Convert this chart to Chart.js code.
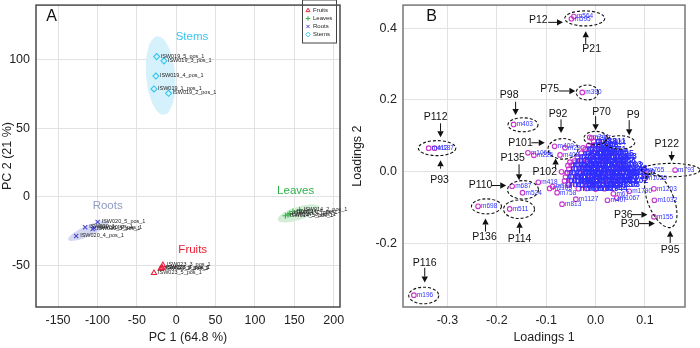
<!DOCTYPE html>
<html lang="en">
<head>
<meta charset="UTF-8">
<title>PCA scores and loadings</title>
<script src="https://cdn.jsdelivr.net/npm/chart.js"></script>
<style>
  body { margin: 0; background: #fff; }
  .panel { position: absolute; top: 0; width: 350px; height: 348px; }
  #panelA { left: 0; }
  #panelB { left: 350px; }
</style>
</head>
<body>
<div class="panel" id="panelA"><canvas id="scoresChart" width="350" height="348"></canvas></div>
<div class="panel" id="panelB"><canvas id="loadingsChart" width="350" height="348"></canvas></div>
<script>
// ---------- Panel A data (PC scores) ----------
const xTicksA = [-150, -100, -50, 0, 50, 100, 150, 200];
const yTicksA = [-50, 0, 50, 100];
const groups = ['Fruits', 'Leaves', 'Roots', 'Stems'];
const fruitsPts = [[-16.9, -49.8, 'ISW023_3_pos_1'], [-19.8, -52.4, 'ISW023_1_pos_1'], [-17.8, -51.7, 'ISW023_4_pos_1'],
                   [-18.5, -52.0, 'ISW023_2_pos_1'], [-28.2, -55.6, 'ISW023_5_pos_1']];
const leavesPts = [[148.3, -10.7, 'ISW014_4_pos_1'], [156.7, -9.6, 'ISW014_2_pos_1'], [144.1, -12.1, 'ISW014_1_pos_1'],
                   [142.0, -13.0, 'ISW014_3_pos_1'], [138.7, -13.8, 'ISW014_5_pos_1']];
const rootsPts = [[-99.7, -18.3, 'ISW020_5_pos_1'], [-115.6, -22.2, 'ISW020_1_pos_1'], [-106.0, -23.4, 'ISW020_3_pos_1'],
                  [-104.0, -22.8, 'ISW020_2_pos_1'], [-127.0, -28.5, 'ISW020_4_pos_1']];
const stemsPts = [[-24.8, 102.4, 'ISW019_5_pos_1'], [-15.6, 99.3, 'ISW019_3_pos_1'], [-25.8, 88.2, 'ISW019_4_pos_1'],
                  [-28.2, 78.8, 'ISW019_1_pos_1'], [-9.7, 75.6, 'ISW019_2_pos_1']];
// confidence ellipses: centre, end of major axis, minor/major ratio
const groupEllipses = [
  { cx: -111.2, cy: -24.6, ex: -85.4, ey: -17.9, ratio: 0.24, fill: '#d4d9f1' },
  { cx: 155.5, cy: -12.0, ex: 182.0, ey: -7.2, ratio: 0.3, fill: '#d4edd7' },
  { cx: -19.8, cy: 88.6, ex: -24.0, ey: 117.2, ratio: 0.37, fill: '#d5f1fb' }
];
const groupNames = [
  { text: 'Stems', x: 20, y: 116.7, color: '#3cc3ee' },
  { text: 'Roots', x: -87, y: -6.3, color: '#8e9cc4' },
  { text: 'Leaves', x: 151.7, y: 4.3, color: '#2db34a' },
  { text: 'Fruits', x: 21, y: -38.4, color: '#ee1c33' }
];

// ---------- Panel B data (loadings) ----------
const xTicksB = [-0.3, -0.2, -0.1, 0.0, 0.1];
const yTicksB = [-0.2, 0.0, 0.2, 0.4];
const loadPts = [
  [-0.044, 0.432, 'm564'], [-0.049, 0.426, 'm595'], [-0.027, 0.221, 'm390'], [-0.166, 0.132, 'm403'],
  [-0.338, 0.066, 'm412'], [-0.326, 0.066, 'm187'], [-0.012, 0.096, 'm344'], [-0.008, 0.094, 'm317'],
  [0.022, 0.080, 'm364'], [-0.083, 0.071, 'm409'], [-0.072, 0.047, 'm408'], [-0.137, 0.053, 'm1066'],
  [-0.125, 0.046, 'm226'], [0.100, 0.005, 'm765'], [0.161, 0.005, 'm793'], [-0.169, -0.040, 'm687'],
  [-0.148, -0.058, 'm524'], [-0.238, -0.096, 'm698'], [-0.174, -0.103, 'm511'], [-0.368, -0.343, 'm196'],
  [-0.068, -0.090, 'm813'], [-0.040, -0.076, 'm1127'], [0.118, -0.047, 'm1203'], [0.119, -0.079, 'm1032'],
  [0.118, -0.125, 'm155'], [-0.116, -0.029, 'm418'], [-0.078, -0.058, 'm758'], [0.024, -0.079, 'm407'],
  [0.043, -0.073, 'm1067'], [0.036, -0.061, 'm67'], [0.068, -0.054, 'm1790'], [-0.093, -0.046, 'm1105'],
  [-0.087, -0.041, 'm566'], [-0.069, 0.000, 'm6'], [-0.056, 0.018, 'm1134'], [-0.062, 0.067, 'm29'],
  [-0.025, 0.067, 'm248'], [-0.052, 0.027, 'm1124'], [0.098, -0.018, 'm1026']
];
const bulkPts = [
  [-0.004, 0.085, 'm288'], [0.006, 0.084, 'm1311'],
  [-0.014, 0.074, 'm317'], [-0.002, 0.075, 'm502'], [0.009, 0.073, 'm96'],
  [-0.021, 0.063, 'm1140'], [-0.009, 0.064, 'm49'], [0.003, 0.062, 'm853'], [0.015, 0.063, 'm271'],
  [-0.029, 0.052, 'm632'], [-0.016, 0.053, 'm1018'], [-0.004, 0.051, 'm53'], [0.008, 0.052, 'm740'], [0.020, 0.053, 'm186'], [0.030, 0.051, 'm925'],
  [-0.037, 0.041, 'm371'], [-0.025, 0.042, 'm1207'], [-0.011, 0.040, 'm84'], [0.001, 0.041, 'm560'], [0.013, 0.042, 'm1099'], [0.026, 0.040, 'm92'], [0.036, 0.041, 'm438'],
  [-0.043, 0.030, 'm715'], [-0.031, 0.031, 'm1172'], [-0.018, 0.029, 'm230'], [-0.005, 0.030, 'm669'], [0.007, 0.031, 'm1045'], [0.019, 0.029, 'm312'], [0.032, 0.030, 'm877'], [0.044, 0.031, 'm58'],
  [-0.049, 0.019, 'm1253'], [-0.037, 0.020, 'm447'], [-0.024, 0.018, 'm906'], [-0.012, 0.019, 'm133'], [0.000, 0.020, 'm1081'], [0.013, 0.018, 'm590'], [0.025, 0.019, 'm264'], [0.038, 0.020, 'm1163'], [0.050, 0.018, 'm702'],
  [-0.054, 0.008, 'm385'], [-0.041, 0.009, 'm1226'], [-0.029, 0.007, 'm612'], [-0.016, 0.008, 'm77'], [-0.004, 0.009, 'm948'], [0.009, 0.007, 'm1290'], [0.021, 0.008, 'm354'], [0.034, 0.009, 'm819'], [0.046, 0.007, 'm1059'], [0.058, 0.008, 'm143'],
  [-0.058, -0.003, 'm1274'], [-0.045, -0.002, 'm536'], [-0.033, -0.004, 'm895'], [-0.021, -0.003, 'm210'], [-0.008, -0.002, 'm1108'], [0.004, -0.004, 'm463'], [0.017, -0.003, 'm731'], [0.029, -0.002, 'm1187'], [0.042, -0.004, 'm305'], [0.054, -0.003, 'm962'], [0.064, -0.002, 'm1020'],
  [-0.061, -0.014, 'm681'], [-0.049, -0.013, 'm1139'], [-0.036, -0.015, 'm252'], [-0.023, -0.014, 'm874'], [-0.011, -0.013, 'm1215'], [0.002, -0.015, 'm427'], [0.014, -0.014, 'm658'], [0.027, -0.013, 'm1093'], [0.039, -0.015, 'm181'], [0.052, -0.014, 'm1036'], [0.061, -0.013, 'm519'],
  [-0.063, -0.025, 'm1248'], [-0.050, -0.024, 'm394'], [-0.037, -0.026, 'm823'], [-0.024, -0.025, 'm1160'], [-0.012, -0.024, 'm275'], [0.001, -0.026, 'm700'], [0.013, -0.025, 'm1071'], [0.026, -0.024, 'm346'], [0.038, -0.026, 'm968'], [0.050, -0.025, 'm1202'],
  [-0.055, -0.036, 'm1263'], [-0.041, -0.035, 'm157'], [-0.027, -0.037, 'm610'], [-0.013, -0.036, 'm1119'], [0.001, -0.035, 'm488'], [0.015, -0.037, 'm836'], [0.029, -0.036, 'm1230'], [0.043, -0.035, 'm203'],
  [-0.035, -0.047, 'm957'], [-0.018, -0.046, 'm1181'], [0.000, -0.048, 'm329'], [0.018, -0.047, 'm744']
];
// dashed ellipses (centre in data units, radii in px) and arrow labels
const loadEllipses = [
  { x: -0.022, y: 0.427, rx: 20, ry: 7.5 }, { x: -0.017, y: 0.221, rx: 11, ry: 7.5 },
  { x: -0.147, y: 0.131, rx: 15, ry: 7 }, { x: -0.321, y: 0.066, rx: 18.7, ry: 7.5 },
  { x: 0.0, y: 0.094, rx: 11.7, ry: 6.7 }, { x: 0.049, y: 0.082, rx: 15, ry: 6.7 },
  { x: -0.066, y: 0.064, rx: 15, ry: 10.3 }, { x: -0.147, y: -0.050, rx: 15.5, ry: 9.2 },
  { x: -0.221, y: -0.096, rx: 15, ry: 7.5 }, { x: -0.155, y: -0.104, rx: 15.5, ry: 9.2 },
  { x: -0.348, y: -0.344, rx: 15, ry: 8.3 }, { x: 0.152, y: 0.005, rx: 29.2, ry: 6.7 },
  { x: 0.132, y: -0.079, rx: 13, ry: 29, rot: -0.38 }
];
const peakTags = [
  { t: 'P12', x: -0.116, y: 0.423, a: [-0.096, 0.416, -0.066, 0.416] },
  { t: 'P21', x: -0.008, y: 0.341, a: [-0.020, 0.356, -0.020, 0.391] },
  { t: 'P75', x: -0.093, y: 0.229, a: [-0.074, 0.225, -0.041, 0.225] },
  { t: 'P98', x: -0.175, y: 0.213, a: [-0.162, 0.195, -0.162, 0.158] },
  { t: 'P112', x: -0.324, y: 0.151, a: [-0.314, 0.135, -0.314, 0.096] },
  { t: 'P93', x: -0.316, y: -0.023, a: [-0.314, 0.009, -0.314, 0.032] },
  { t: 'P70', x: 0.012, y: 0.167, a: [0.0, 0.155, 0.0, 0.116] },
  { t: 'P9', x: 0.076, y: 0.157, a: [0.068, 0.144, 0.068, 0.102] },
  { t: 'P92', x: -0.076, y: 0.162, a: [-0.070, 0.146, -0.070, 0.108] },
  { t: 'P101', x: -0.152, y: 0.081, a: [-0.130, 0.081, -0.103, 0.081] },
  { t: 'P102', x: -0.103, y: -0.002, a: [-0.081, 0.008, -0.081, 0.037] },
  { t: 'P135', x: -0.168, y: 0.037, a: [-0.155, 0.021, -0.155, -0.023] },
  { t: 'P110', x: -0.233, y: -0.038, a: [-0.211, -0.038, -0.181, -0.038] },
  { t: 'P136', x: -0.225, y: -0.182, a: [-0.223, -0.166, -0.223, -0.130] },
  { t: 'P114', x: -0.154, y: -0.187, a: [-0.154, -0.171, -0.154, -0.139] },
  { t: 'P116', x: -0.346, y: -0.253, a: [-0.346, -0.267, -0.346, -0.308] },
  { t: 'P122', x: 0.144, y: 0.078, a: [0.154, 0.057, 0.154, 0.030] },
  { t: 'P36', x: 0.056, y: -0.119, a: [0.073, -0.119, 0.105, -0.119] },
  { t: 'P30', x: 0.070, y: -0.146, a: [0.088, -0.144, 0.120, -0.144] },
  { t: 'P95', x: 0.151, y: -0.219, a: [0.151, -0.198, 0.151, -0.164] }
];

const FONT = "'Liberation Sans', Arial, sans-serif";
const NARROW = "'Liberation Sans Narrow', 'Arial Narrow', 'Liberation Sans', sans-serif";
const toXY = pts => pts.map(p => ({ x: p[0], y: p[1], name: p[2] }));

function axis(min, max, ticks, title, size, fmt) {
  return {
    type: 'linear', min: min, max: max,
    afterBuildTicks: s => { s.ticks = ticks.map(v => ({ value: v })); },
    afterFit: s => {
      if (s.isHorizontal()) s.height = size; else s.width = size;
      s.paddingTop = 0; s.paddingBottom = 0; s.paddingLeft = 0; s.paddingRight = 0;
    },
    grid: { color: '#e2e2e2', drawTicks: false },
    border: { display: false },
    ticks: { padding: 6, color: '#222', font: { size: 12.5, family: FONT }, callback: fmt || (v => v) },
    title: { display: true, text: title, color: '#222', font: { size: 12.5, family: FONT }, padding: { top: 0, bottom: 3 } }
  };
}

function frame(color) {
  return {
    id: 'frame',
    afterDraw(chart) {
      const a = chart.chartArea, ctx = chart.ctx;
      ctx.save();
      ctx.strokeStyle = color; ctx.lineWidth = 1.5;
      ctx.strokeRect(a.left, a.top, a.right - a.left, a.bottom - a.top);
      ctx.restore();
    }
  };
}

// ---------- Panel A ----------
const styleA = {
  Fruits: { pointStyle: 'triangle', color: '#e8243c' },
  Leaves: { pointStyle: 'cross', color: '#3cb44b' },
  Roots: { pointStyle: 'crossRot', color: '#4a4ad0' },
  Stems: { pointStyle: 'rectRot', color: '#33c4ee' }
};
const seriesA = { Fruits: fruitsPts, Leaves: leavesPts, Roots: rootsPts, Stems: stemsPts };

const scoresExtras = {
  id: 'scoresExtras',
  beforeDatasetsDraw(chart) {
    const ctx = chart.ctx, xs = chart.scales.x, ys = chart.scales.y;
    ctx.save();
    groupEllipses.forEach(e => {
      const cx = xs.getPixelForValue(e.cx), cy = ys.getPixelForValue(e.cy);
      const ex = xs.getPixelForValue(e.ex), ey = ys.getPixelForValue(e.ey);
      const a = Math.hypot(ex - cx, ey - cy);
      ctx.fillStyle = e.fill;
      ctx.beginPath();
      ctx.ellipse(cx, cy, a, a * e.ratio, Math.atan2(ey - cy, ex - cx), 0, Math.PI * 2);
      ctx.fill();
    });
    ctx.restore();
  },
  afterDatasetsDraw(chart) {
    const ctx = chart.ctx, xs = chart.scales.x, ys = chart.scales.y, area = chart.chartArea;
    ctx.save();
    ctx.textBaseline = 'middle';
    ctx.fillStyle = '#222';
    ctx.font = '5.5px ' + FONT;
    chart.data.datasets.forEach(ds => ds.data.forEach(p => {
      ctx.fillText(p.name, xs.getPixelForValue(p.x) + 4, ys.getPixelForValue(p.y) - 0.5);
    }));
    ctx.textAlign = 'center';
    ctx.font = '11.5px ' + FONT;
    groupNames.forEach(g => {
      ctx.fillStyle = g.color;
      ctx.fillText(g.text, xs.getPixelForValue(g.x), ys.getPixelForValue(g.y));
    });
    // panel letter
    ctx.fillStyle = '#111';
    ctx.font = '16px ' + FONT;
    ctx.fillText('A', 51.5, 17);
    // legend box
    const bx = area.right - 37.5, by = 0, bw = 34, bh = 43;
    ctx.fillStyle = '#fff';
    ctx.fillRect(bx, by, bw, bh);
    ctx.strokeStyle = '#444'; ctx.lineWidth = 1;
    ctx.strokeRect(bx, by, bw, bh);
    ctx.textAlign = 'left';
    ctx.font = '6px ' + FONT;
    groups.forEach((g, i) => {
      const y = by + 10.5 + i * 8;
      ctx.strokeStyle = styleA[g].color; ctx.fillStyle = 'rgba(0,0,0,0)'; ctx.lineWidth = 1;
      Chart.helpers.drawPoint(ctx, { pointStyle: styleA[g].pointStyle, radius: 2.3, borderWidth: 1 }, bx + 5.5, y);
      ctx.fillStyle = '#222';
      ctx.fillText(g, bx + 10.5, y);
    });
    ctx.restore();
  }
};

new Chart(document.getElementById('scoresChart'), {
  type: 'scatter',
  data: {
    datasets: groups.map(g => ({
      label: g,
      data: toXY(seriesA[g]),
      pointStyle: styleA[g].pointStyle,
      borderColor: styleA[g].color,
      backgroundColor: 'rgba(0,0,0,0)',
      pointRadius: 3,
      borderWidth: 1.1
    }))
  },
  options: {
    responsive: false, animation: false,
    layout: { padding: { top: -3, right: 10, left: 0, bottom: 0 } },
    plugins: { legend: { display: false }, tooltip: { enabled: false } },
    scales: {
      x: axis(-178, 208, xTicksA, 'PC 1 (64.8 %)', 41),
      y: axis(-80.4, 140, yTicksA, 'PC 2 (21 %)', 36)
    }
  },
  plugins: [scoresExtras, frame('#4a4a4a')]
});

// ---------- Panel B ----------
function arrow(ctx, x0, y0, x1, y1) {
  const ang = Math.atan2(y1 - y0, x1 - x0), h = 6, w = 3.2;
  const bx = x1 - h * Math.cos(ang), by = y1 - h * Math.sin(ang);
  ctx.beginPath(); ctx.moveTo(x0, y0); ctx.lineTo(bx, by); ctx.stroke();
  ctx.beginPath();
  ctx.moveTo(x1, y1);
  ctx.lineTo(bx + w * Math.sin(ang), by - w * Math.cos(ang));
  ctx.lineTo(bx - w * Math.sin(ang), by + w * Math.cos(ang));
  ctx.closePath(); ctx.fill();
}

const loadingsExtras = {
  id: 'loadingsExtras',
  afterDatasetsDraw(chart) {
    const ctx = chart.ctx, xs = chart.scales.x, ys = chart.scales.y;
    ctx.save();
    ctx.textBaseline = 'middle';
    ctx.fillStyle = '#2f2fff';
    chart.data.datasets.forEach((ds, i) => {
      ctx.font = (i === 1 ? 'bold 8.5px ' + FONT : '6.5px ' + NARROW);
      ds.data.forEach(p => ctx.fillText(p.name, xs.getPixelForValue(p.x) + (i === 1 ? 1.5 : 3), ys.getPixelForValue(p.y)));
    });
    // dashed ellipses
    ctx.strokeStyle = '#111'; ctx.lineWidth = 1.1;
    ctx.setLineDash([3, 2]);
    loadEllipses.forEach(e => {
      ctx.beginPath();
      ctx.ellipse(xs.getPixelForValue(e.x), ys.getPixelForValue(e.y), e.rx, e.ry, e.rot || 0, 0, Math.PI * 2);
      ctx.stroke();
    });
    ctx.setLineDash([]);
    // tags with arrows
    ctx.fillStyle = '#111'; ctx.lineWidth = 1;
    ctx.textAlign = 'center';
    ctx.font = '10.5px ' + FONT;
    peakTags.forEach(t => {
      ctx.fillText(t.t, xs.getPixelForValue(t.x), ys.getPixelForValue(t.y));
      arrow(ctx, xs.getPixelForValue(t.a[0]), ys.getPixelForValue(t.a[1]),
            xs.getPixelForValue(t.a[2]), ys.getPixelForValue(t.a[3]));
    });
    ctx.font = '16px ' + FONT;
    ctx.fillText('B', 81.5, 17);
    ctx.restore();
  }
};

const markerB = {
  pointStyle: 'circle', borderColor: '#cc33cc', backgroundColor: 'rgba(0,0,0,0)',
  pointRadius: 2.3, borderWidth: 1.1
};

new Chart(document.getElementById('loadingsChart'), {
  type: 'scatter',
  data: {
    datasets: [
      Object.assign({ label: 'Loadings', data: toXY(loadPts) }, markerB),
      Object.assign({ label: 'Loadings (bulk)', data: toXY(bulkPts) }, markerB)
    ]
  },
  options: {
    responsive: false, animation: false,
    layout: { padding: { top: -4, right: 15, left: 0, bottom: 0 } },
    plugins: { legend: { display: false }, tooltip: { enabled: false } },
    scales: {
      x: axis(-0.39, 0.181, xTicksB, 'Loadings 1', 41, v => v.toFixed(1)),
      y: axis(-0.376, 0.464, yTicksB, 'Loadings 2', 53, v => v.toFixed(1))
    }
  },
  plugins: [loadingsExtras, frame('#777')]
});
</script>
</body>
</html>
